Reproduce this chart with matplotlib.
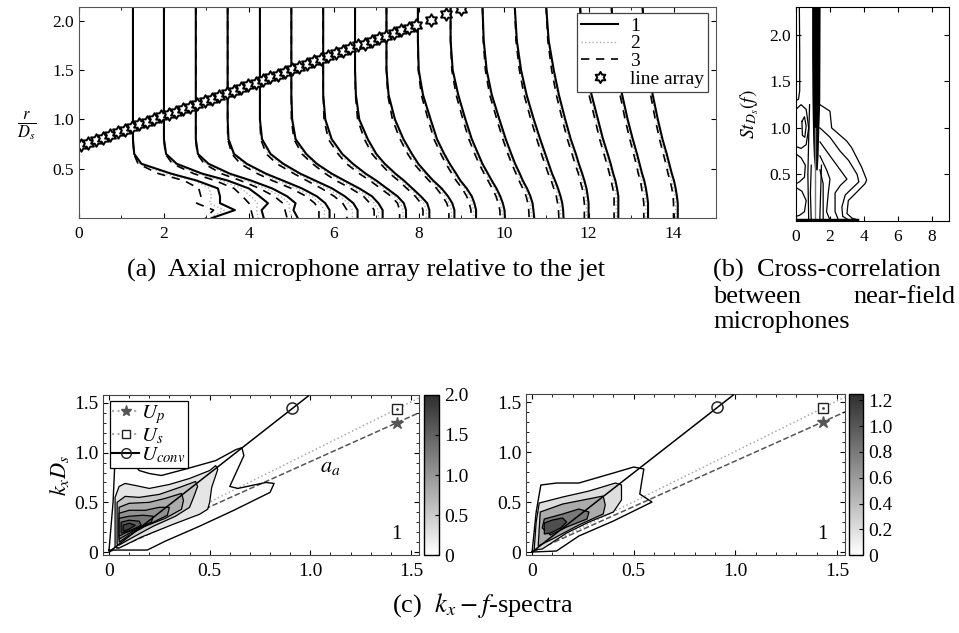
import numpy as np
import matplotlib
matplotlib.use('Agg')
import matplotlib.pyplot as plt
from matplotlib.lines import Line2D
from matplotlib.path import Path
from matplotlib.colors import LinearSegmentedColormap, Normalize
from matplotlib.cm import ScalarMappable

plt.rcParams['font.family'] = 'serif'
plt.rcParams['font.serif'] = ['Liberation Serif', 'DejaVu Serif']
plt.rcParams['mathtext.fontset'] = 'stix'

# ---------------- (a) velocity profiles and line array ----------------
r_pts = [2.15, 1.8, 1.5, 1.25, 1.0, 0.8, 0.65, 0.55, 0.45, 0.38, 0.3, 0.22, 0.15, 0.08, 0.0]
x_stations = [1.27, 2.0, 2.75, 3.5, 4.26, 5.0, 5.75, 6.5, 7.24, 7.98, 8.75, 9.5,
              10.26, 11.0, 11.8, 12.54, 13.27]

u_case1 = [
    [0, 0, 0, 0, 0, 0, 0.03, 0.2, 0.9, 1.5, 2.0, 2.05, 2.05, 2.4, 1.86],
    [0, 0, 0, 0, 0, 0, 0.05, 0.3, 0.9, 1.5, 2.0, 2.25, 2.45, 2.3, 2.35],
    [0, 0, 0, 0, 0, 0, 0.05, 0.3, 0.8, 1.3, 1.8, 2.15, 2.35, 2.3, 2.4],
    [0, 0, 0, 0, 0, 0.02, 0.15, 0.45, 0.9, 1.3, 1.75, 2.1, 2.3, 2.4, 2.4],
    [0, 0, 0, 0, 0, 0.05, 0.25, 0.55, 0.95, 1.3, 1.7, 2.0, 2.2, 2.3, 2.3],
    [0, 0, 0, 0, 0.02, 0.1, 0.35, 0.6, 0.95, 1.25, 1.6, 1.9, 2.05, 2.15, 2.15],
    [0, 0, 0, 0, 0.05, 0.2, 0.45, 0.7, 1.0, 1.25, 1.5, 1.75, 1.9, 1.95, 1.95],
    [0, 0, 0, 0.02, 0.1, 0.3, 0.5, 0.7, 0.95, 1.15, 1.35, 1.55, 1.7, 1.75, 1.75],
    [0, 0, 0, 0.05, 0.2, 0.4, 0.6, 0.75, 0.95, 1.1, 1.3, 1.45, 1.55, 1.6, 1.6],
    [0, 0, 0.02, 0.12, 0.3, 0.45, 0.62, 0.75, 0.9, 1.0, 1.15, 1.27, 1.33, 1.37, 1.37],
    [0, 0, 0.05, 0.18, 0.35, 0.5, 0.65, 0.75, 0.88, 0.97, 1.08, 1.17, 1.23, 1.27, 1.28],
    [0, 0.03, 0.1, 0.22, 0.4, 0.55, 0.68, 0.77, 0.88, 0.95, 1.05, 1.13, 1.18, 1.2, 1.22],
    [0, 0.05, 0.15, 0.28, 0.45, 0.6, 0.72, 0.8, 0.88, 0.95, 1.02, 1.08, 1.12, 1.14, 1.15],
    [0, 0.06, 0.18, 0.3, 0.45, 0.58, 0.7, 0.77, 0.85, 0.9, 0.95, 0.98, 1.0, 1.0, 1.0],
    [0, 0.05, 0.15, 0.27, 0.42, 0.54, 0.65, 0.72, 0.78, 0.83, 0.87, 0.9, 0.9, 0.9, 0.9],
    [0, 0.05, 0.15, 0.25, 0.38, 0.5, 0.6, 0.66, 0.72, 0.77, 0.81, 0.84, 0.86, 0.86, 0.86],
    [0, 0.05, 0.14, 0.24, 0.36, 0.47, 0.57, 0.63, 0.69, 0.74, 0.78, 0.81, 0.83, 0.83, 0.83],
]
u_case2 = [
    [0, 0, 0, 0, 0, 0, 0.02, 0.16, 0.75, 1.45, 1.8, 1.85, 1.8, 2.15, 1.8],
    [0, 0, 0, 0, 0, 0, 0.04, 0.25, 0.8, 1.35, 1.82, 2.05, 2.2, 2.18, 2.22],
    [0, 0, 0, 0, 0, 0, 0.04, 0.25, 0.7, 1.18, 1.65, 2.0, 2.2, 2.2, 2.28],
    [0, 0, 0, 0, 0, 0.01, 0.12, 0.38, 0.8, 1.18, 1.62, 1.98, 2.18, 2.28, 2.28],
    [0, 0, 0, 0, 0, 0.03, 0.2, 0.48, 0.88, 1.2, 1.58, 1.88, 2.08, 2.18, 2.18],
    [0, 0, 0, 0, 0.01, 0.08, 0.3, 0.55, 0.88, 1.15, 1.5, 1.8, 1.95, 2.05, 2.05],
    [0, 0, 0, 0, 0.03, 0.16, 0.4, 0.62, 0.92, 1.18, 1.42, 1.68, 1.82, 1.88, 1.88],
    [0, 0, 0, 0.01, 0.08, 0.26, 0.45, 0.65, 0.88, 1.08, 1.28, 1.48, 1.62, 1.68, 1.68],
    [0, 0, 0, 0.04, 0.17, 0.36, 0.55, 0.7, 0.9, 1.05, 1.24, 1.38, 1.48, 1.53, 1.53],
    [0, 0, 0.015, 0.1, 0.27, 0.41, 0.58, 0.7, 0.85, 0.95, 1.1, 1.21, 1.27, 1.31, 1.31],
    [0, 0, 0.04, 0.15, 0.32, 0.46, 0.61, 0.71, 0.83, 0.92, 1.03, 1.12, 1.17, 1.21, 1.22],
    [0, 0.025, 0.08, 0.2, 0.37, 0.51, 0.64, 0.73, 0.83, 0.9, 1.0, 1.08, 1.12, 1.14, 1.16],
    [0, 0.04, 0.13, 0.25, 0.41, 0.56, 0.67, 0.75, 0.83, 0.9, 0.97, 1.03, 1.06, 1.08, 1.09],
    [0, 0.05, 0.15, 0.27, 0.41, 0.54, 0.65, 0.72, 0.8, 0.85, 0.9, 0.93, 0.95, 0.95, 0.95],
    [0, 0.04, 0.13, 0.24, 0.38, 0.5, 0.6, 0.67, 0.73, 0.78, 0.82, 0.85, 0.85, 0.85, 0.85],
    [0, 0.04, 0.13, 0.22, 0.35, 0.46, 0.56, 0.62, 0.67, 0.72, 0.76, 0.79, 0.81, 0.81, 0.81],
    [0, 0.04, 0.12, 0.21, 0.33, 0.43, 0.53, 0.59, 0.64, 0.69, 0.73, 0.76, 0.78, 0.78, 0.78],
]
u_case3 = [
    [0, 0, 0, 0, 0, 0, 0.02, 0.12, 0.6, 1.2, 1.55, 1.6, 1.5, 1.9, 1.7],
    [0, 0, 0, 0, 0, 0, 0.03, 0.2, 0.7, 1.2, 1.65, 1.85, 2.0, 2.05, 2.1],
    [0, 0, 0, 0, 0, 0, 0.03, 0.2, 0.6, 1.05, 1.5, 1.85, 2.05, 2.1, 2.15],
    [0, 0, 0, 0, 0, 0, 0.1, 0.3, 0.7, 1.05, 1.5, 1.85, 2.05, 2.15, 2.15],
    [0, 0, 0, 0, 0, 0.02, 0.15, 0.4, 0.8, 1.1, 1.45, 1.75, 1.95, 2.05, 2.05],
    [0, 0, 0, 0, 0, 0.06, 0.25, 0.5, 0.8, 1.05, 1.4, 1.7, 1.85, 1.95, 1.95],
    [0, 0, 0, 0, 0.02, 0.12, 0.35, 0.55, 0.85, 1.1, 1.35, 1.6, 1.75, 1.8, 1.8],
    [0, 0, 0, 0.01, 0.06, 0.22, 0.4, 0.6, 0.82, 1.02, 1.22, 1.42, 1.55, 1.6, 1.6],
    [0, 0, 0, 0.03, 0.14, 0.32, 0.5, 0.65, 0.85, 1.0, 1.18, 1.32, 1.42, 1.47, 1.47],
    [0, 0, 0.01, 0.08, 0.24, 0.38, 0.54, 0.66, 0.8, 0.9, 1.04, 1.15, 1.21, 1.25, 1.25],
    [0, 0, 0.03, 0.13, 0.29, 0.43, 0.57, 0.67, 0.79, 0.88, 0.98, 1.07, 1.12, 1.16, 1.17],
    [0, 0.02, 0.07, 0.17, 0.34, 0.48, 0.6, 0.69, 0.79, 0.86, 0.95, 1.03, 1.07, 1.09, 1.1],
    [0, 0.03, 0.11, 0.22, 0.38, 0.52, 0.63, 0.71, 0.79, 0.86, 0.92, 0.98, 1.01, 1.03, 1.04],
    [0, 0.04, 0.13, 0.24, 0.38, 0.5, 0.61, 0.68, 0.76, 0.8, 0.85, 0.88, 0.9, 0.9, 0.9],
    [0, 0.03, 0.11, 0.21, 0.35, 0.46, 0.56, 0.63, 0.69, 0.73, 0.77, 0.8, 0.8, 0.8, 0.8],
    [0, 0.03, 0.11, 0.2, 0.32, 0.43, 0.52, 0.58, 0.63, 0.68, 0.71, 0.74, 0.76, 0.76, 0.76],
    [0, 0.03, 0.1, 0.19, 0.3, 0.4, 0.49, 0.55, 0.6, 0.65, 0.69, 0.72, 0.73, 0.73, 0.73],
]

mic_x = [0.05, 0.22, 0.39, 0.56, 0.74, 0.91, 1.08, 1.25, 1.42, 1.59, 1.76, 1.93, 2.11,
         2.28, 2.45, 2.62, 2.79, 2.96, 3.13, 3.30, 3.48, 3.65, 3.82, 3.99, 4.16, 4.33,
         4.50, 4.68, 4.85, 5.02, 5.19, 5.36, 5.53, 5.70, 5.87, 6.05, 6.22, 6.39, 6.56,
         6.73, 6.90, 7.07, 7.24, 7.42, 7.59, 7.76, 7.93, 8.28, 8.64, 9.00]
mic_r = [0.74, 0.76, 0.79, 0.81, 0.84, 0.87, 0.89, 0.92, 0.95, 0.97, 1.00, 1.03, 1.05,
         1.08, 1.11, 1.13, 1.16, 1.19, 1.21, 1.24, 1.27, 1.29, 1.32, 1.35, 1.37, 1.40,
         1.43, 1.45, 1.48, 1.51, 1.53, 1.56, 1.59, 1.61, 1.64, 1.67, 1.69, 1.72, 1.75,
         1.77, 1.80, 1.83, 1.85, 1.88, 1.91, 1.93, 1.96, 2.01, 2.07, 2.12]

# ---------------- (b) cross-correlation contours ----------------
band_y = [0.55, 0.7, 0.9, 1.3, 1.8, 2.3]
band_xl = [1.1, 1.02, 0.98, 0.94, 0.92, 0.92]
band_xr = [1.25, 1.3, 1.33, 1.4, 1.41, 1.42]
corr_lines = [
    [(0.2, 2.3), (0.22, 1.8), (0.22, 1.4), (0.15, 1.31), (0.0, 1.29)],
    [(1.41, 1.25), (2.0, 1.18), (2.1, 1.0), (2.98, 0.86), (3.27, 0.79), (3.86, 0.58),
     (4.16, 0.44), (4.06, 0.40), (3.47, 0.29), (3.08, 0.22), (3.0, 0.08), (3.3, 0.03), (3.67, 0.01)],
    [(1.41, 1.0), (2.0, 0.9), (2.6, 0.75), (3.1, 0.65), (3.6, 0.5), (3.7, 0.42), (3.3, 0.35),
     (2.9, 0.28), (2.7, 0.15), (2.75, 0.05), (3.1, 0.01)],
    [(1.41, 0.85), (2.0, 0.7), (2.6, 0.55), (3.0, 0.45), (2.6, 0.38), (2.3, 0.3), (2.3, 0.1), (2.5, 0.01)],
    [(1.41, 0.7), (1.8, 0.55), (2.0, 0.45), (1.9, 0.3), (1.8, 0.1), (2.0, 0.01)],
    [(1.41, 0.55), (1.6, 0.4), (1.6, 0.01)],
    [(0.0, 1.2), (0.3, 1.25), (0.6, 1.2), (0.75, 1.0), (0.6, 0.82), (0.3, 0.78), (0.0, 0.8)],
    [(0.35, 1.07), (0.5, 1.12), (0.6, 1.02), (0.52, 0.9), (0.38, 0.92), (0.35, 1.07)],
    [(0.0, 0.72), (0.3, 0.68), (0.55, 0.6), (0.5, 0.47), (0.2, 0.42), (0.0, 0.4)],
    [(0.0, 0.36), (0.35, 0.32), (0.6, 0.22), (0.5, 0.1), (0.2, 0.06), (0.0, 0.05)],
    [(0.8, 1.25), (0.75, 0.9), (0.7, 0.5), (0.75, 0.0)],
    [(0.9, 0.6), (0.85, 0.3), (0.9, 0.0)],
    [(1.5, 0.6), (1.45, 0.3), (1.4, 0.0)],
]
corr_mid_x = [1.12, 1.12]
corr_mid_y = [0.0, 1.0]
corr_base_x = [0.0, 3.6]
corr_base_y = [0.015, 0.015]

# ---------------- (c) k-f spectra ----------------
fill_levels_1 = [0.25, 0.55, 0.8, 1.05, 1.3, 1.55, 1.8]
outer_1 = [(0.0, 0.02), (0.02, 0.5), (0.03, 0.95), (0.10, 0.95), (0.15, 0.82), (0.2, 0.79),
           (0.26, 0.77), (0.39, 0.84), (0.53, 0.92), (0.63, 1.03), (0.66, 1.05), (0.67, 0.97),
           (0.60, 0.66), (0.64, 0.64), (0.78, 0.70), (0.82, 0.69), (0.80, 0.60), (0.62, 0.42),
           (0.45, 0.26), (0.28, 0.11), (0.19, 0.02), (0.0, 0.02)]
polys_1 = [
    [(0.03, 0.05), (0.03, 0.55), (0.05, 0.66), (0.08, 0.69), (0.13, 0.67), (0.2, 0.64), (0.3, 0.68),
     (0.4, 0.74), (0.5, 0.82), (0.53, 0.87), (0.54, 0.83), (0.51, 0.65), (0.50, 0.50), (0.49, 0.43),
     (0.45, 0.38), (0.32, 0.28), (0.16, 0.15), (0.05, 0.04)],
    [(0.04, 0.08), (0.04, 0.5), (0.08, 0.56), (0.15, 0.55), (0.25, 0.58), (0.35, 0.65), (0.43, 0.71),
     (0.44, 0.66), (0.42, 0.55), (0.40, 0.45), (0.33, 0.36), (0.22, 0.26), (0.12, 0.15), (0.05, 0.07)],
    [(0.05, 0.1), (0.05, 0.45), (0.10, 0.49), (0.2, 0.5), (0.28, 0.54), (0.36, 0.59), (0.37, 0.52),
     (0.36, 0.43), (0.28, 0.34), (0.18, 0.26), (0.1, 0.17)],
    [(0.05, 0.13), (0.05, 0.39), (0.10, 0.42), (0.18, 0.42), (0.25, 0.45), (0.30, 0.45), (0.29, 0.37),
     (0.21, 0.29), (0.12, 0.21)],
    [(0.05, 0.16), (0.05, 0.34), (0.10, 0.36), (0.17, 0.37), (0.22, 0.36), (0.21, 0.30), (0.13, 0.23),
     (0.08, 0.19)],
    [(0.06, 0.19), (0.06, 0.30), (0.1, 0.32), (0.15, 0.31), (0.16, 0.27), (0.11, 0.22)],
    [(0.07, 0.21), (0.07, 0.27), (0.1, 0.29), (0.13, 0.27), (0.1, 0.23)],
]
fill_levels_2 = [0.2, 0.5, 0.8, 1.05]
outer_2 = [(0.0, 0.0), (0.02, 0.4), (0.043, 0.67), (0.12, 0.69), (0.23, 0.69), (0.40, 0.79),
           (0.50, 0.85), (0.55, 0.83), (0.54, 0.71), (0.53, 0.58), (0.59, 0.50), (0.53, 0.44),
           (0.40, 0.31), (0.23, 0.16), (0.12, 0.01), (0.0, 0.0)]
polys_2 = [
    [(0.01, 0.02), (0.02, 0.3), (0.035, 0.49), (0.15, 0.55), (0.28, 0.61), (0.41, 0.69), (0.44, 0.67),
     (0.44, 0.52), (0.40, 0.40), (0.28, 0.30), (0.17, 0.19), (0.05, 0.03)],
    [(0.03, 0.06), (0.04, 0.40), (0.15, 0.48), (0.35, 0.56), (0.36, 0.47), (0.35, 0.38), (0.23, 0.27),
     (0.1, 0.13)],
    [(0.05, 0.24), (0.06, 0.33), (0.15, 0.38), (0.23, 0.43), (0.28, 0.40), (0.27, 0.33), (0.17, 0.25),
     (0.09, 0.17)],
    [(0.06, 0.18), (0.06, 0.29), (0.10, 0.32), (0.15, 0.34), (0.17, 0.30), (0.14, 0.24), (0.09, 0.19)],
]
conv_f = [0.0, 0.99]
conv_k = [0.0, 1.57]
us_f = [0.0, 1.55]
us_k = [0.0, 1.56]
up_f = [0.0, 1.55]
up_k = [0.0, 1.41]
mark_conv = (0.91, 1.45)
mark_us = (1.43, 1.44)
mark_up = (1.43, 1.30)
cmax = [2.0, 1.25]
cticks = [[0, 0.5, 1.0, 1.5, 2.0], [0, 0.2, 0.4, 0.6, 0.8, 1.0, 1.2]]
cticklabels = [['0', '0.5', '1.0', '1.5', '2.0'], ['0', '0.2', '0.4', '0.6', '0.8', '1.0', '1.2']]

# hexagram marker for the microphones
ang = np.deg2rad(np.arange(12) * 30 + 90)
rad = np.array([1.0, 0.58] * 6)
hexagram = Path(np.column_stack([rad * np.cos(ang), rad * np.sin(ang)]).tolist() + [[0, 1.0]],
                [Path.MOVETO] + [Path.LINETO] * 11 + [Path.CLOSEPOLY])

fig = plt.figure(figsize=(9.59, 6.33), dpi=100)
tick_kw = dict(direction='in', top=True, right=True, labelsize=12.5)

# ---- panel a
ax = fig.add_axes([0.0824, 0.6556, 0.6642, 0.3333])
for i, x0 in enumerate(x_stations):
    ax.plot(np.array(u_case2[i]) + x0, r_pts, ':', color='#b0b0b0', lw=1.0)
    ax.plot(np.array(u_case3[i]) + x0, r_pts, '--', color='black', lw=1.2, dashes=(5, 4))
    ax.plot(np.array(u_case1[i]) + x0, r_pts, '-', color='black', lw=1.5)
ax.plot(mic_x, mic_r, ls='none', marker=hexagram, ms=9, mfc='white', mec='black', mew=1.4)
ax.set_xlim(0, 15)
ax.set_ylim(0, 2.14)
ax.set_xticks([0, 2, 4, 6, 8, 10, 12, 14])
ax.set_xticks(range(1, 15, 2), minor=True)
ax.set_yticks([0.5, 1.0, 1.5, 2.0])
ax.set_yticklabels(['0.5', '1.0', '1.5', '2.0'])
ax.tick_params(which='both', **tick_kw)
ax.tick_params(axis='x', pad=6)
for s in ax.spines.values():
    s.set_color('#555555')
h = [Line2D([], [], color='black', lw=1.5),
     Line2D([], [], color='#b0b0b0', ls=':', lw=1.0),
     Line2D([], [], color='black', ls='--', lw=1.2, dashes=(5, 4)),
     Line2D([], [], ls='none', marker=hexagram, ms=8, mfc='white', mec='black', mew=1.4)]
leg = ax.legend(h, ['1', '2', '3', 'line array'], loc='upper right', bbox_to_anchor=(0.987, 0.97),
                fontsize=14, frameon=True, fancybox=False, edgecolor='#444444', framealpha=1,
                handlelength=1.9, borderpad=0.2, labelspacing=0.0, handletextpad=0.6,
                borderaxespad=0.0)
leg.get_frame().set_linewidth(0.9)
fig.text(0.018, 0.80, r'$\frac{r}{D_s}$', fontsize=17, ha='left', va='center')

# ---- panel b
bx = fig.add_axes([0.830, 0.6509, 0.1595, 0.3381])
bx.fill_betweenx(band_y, band_xl, band_xr, color='black', lw=0)
for line in corr_lines:
    xs, ys = zip(*line)
    bx.plot(xs, ys, color='black', lw=0.9)
bx.plot(corr_mid_x, corr_mid_y, color='#777777', lw=1.0)
bx.plot(corr_base_x, corr_base_y, color='black', lw=2.5)
bx.set_xlim(0, 9)
bx.set_ylim(0, 2.3)
bx.set_xticks([0, 2, 4, 6, 8])
bx.set_yticks([0.5, 1.0, 1.5, 2.0])
bx.set_yticklabels(['0.5', '1.0', '1.5', '2.0'])
bx.tick_params(**tick_kw)
bx.tick_params(axis='x', pad=6)
bx.set_ylabel(r'$St_{D_s}(f)$', fontsize=14, labelpad=6)

# ---- panel c
cmap = LinearSegmentedColormap.from_list('gr', ['white', '#2e2e2e'])
cpos = [([0.1074, 0.1232, 0.3295, 0.2528], [0.4421, 0.1232, 0.0156, 0.2528]),
        ([0.5485, 0.1232, 0.3326, 0.2543], [0.8853, 0.1232, 0.0146, 0.2543])]
panels = [(outer_1, polys_1, fill_levels_1), (outer_2, polys_2, fill_levels_2)]
for j, (apos, cbpos) in enumerate(cpos):
    cx = fig.add_axes(apos)
    outer, polys, levels = panels[j]
    norm = Normalize(0, cmax[j])
    cx.plot(us_f, us_k, ':', color='#aaaaaa', lw=1.1, zorder=1)
    cx.plot(up_f, up_k, '--', color='#555555', lw=1.1, zorder=1)
    xs, ys = zip(*outer)
    cx.plot(xs, ys, color='black', lw=1.0, zorder=2)
    for lev, poly in zip(levels, polys):
        xs, ys = zip(*poly)
        cx.fill(xs, ys, facecolor=cmap(norm(lev)), edgecolor='black', lw=0.9, zorder=2)
    cx.plot(conv_f, conv_k, '-', color='black', lw=1.1, zorder=3)
    cx.plot(*mark_conv, 'o', ms=8, mfc='none', mec='#222222', mew=1.1, zorder=4)
    cx.plot(*mark_us, 's', ms=6.5, mfc='white', mec='#222222', mew=1.0, zorder=4)
    cx.plot(*mark_us, '.', ms=2, color='#444444', zorder=5)
    cx.plot(*mark_up, '*', ms=9, color='#555555', zorder=4)
    cx.text(1.43, 0.18, '1', fontsize=15, ha='center', va='center')
    cx.set_xlim(-0.03, 1.54)
    cx.set_ylim(-0.03, 1.58)
    cx.set_xticks([0, 0.5, 1.0, 1.5])
    cx.set_xticklabels(['0', '0.5', '1.0', '1.5'])
    cx.set_yticks([0, 0.5, 1.0, 1.5])
    cx.set_yticklabels(['0', '0.5', '1.0', '1.5'])
    cx.set_xticks(np.arange(0, 1.55, 0.1), minor=True)
    cx.set_yticks(np.arange(0, 1.55, 0.1), minor=True)
    cx.tick_params(which='both', direction='in', top=True, right=True, labelsize=14)
    cx.tick_params(which='minor', length=2.5)
    cx.tick_params(axis='x', pad=6)
    for s in cx.spines.values():
        s.set_color('#444444')
    if j == 0:
        cx.text(1.10, 0.85, r'$a_a$', fontsize=16, ha='center', va='center')
        cx.set_ylabel(r'$k_x D_s$', fontsize=16, labelpad=2)
        hl = [Line2D([], [], color='#aaaaaa', ls=':', marker='*', ms=8, mfc='#555555', mec='#555555'),
              Line2D([], [], color='#aaaaaa', ls=':', marker='s', ms=6, mfc='white', mec='#222222'),
              Line2D([], [], color='black', ls='-', marker='o', ms=7, mfc='none', mec='#222222')]
        lg = cx.legend(hl, [r'$U_p$', r'$U_s$', r'$U_{conv}$'], loc='upper left',
                       bbox_to_anchor=(0.022, 0.96), fontsize=15, frameon=True, fancybox=False,
                       edgecolor='black', framealpha=1, handlelength=1.3, borderpad=0.1,
                       labelspacing=0.0, handletextpad=0.1, borderaxespad=0.0)
        lg.get_frame().set_linewidth(0.9)
    cb_ax = fig.add_axes(cbpos)
    cb = fig.colorbar(ScalarMappable(norm=norm, cmap=cmap), cax=cb_ax)
    cb.set_ticks(cticks[j])
    cb.set_ticklabels(cticklabels[j])
    cb.ax.tick_params(direction='in', labelsize=14, length=3)
    cb.outline.set_linewidth(1.0)

# ---- captions
cap = 19
fig.text(0.382, 0.573, '(a)  Axial microphone array relative to the jet', fontsize=cap,
         ha='center', va='center')
fig.text(0.744, 0.573, '(b)  Cross-correlation', fontsize=cap, ha='left', va='center')
fig.text(0.744, 0.531, 'between', fontsize=cap, ha='left', va='center')
fig.text(0.996, 0.531, 'near-field', fontsize=cap, ha='right', va='center')
fig.text(0.744, 0.491, 'microphones', fontsize=cap, ha='left', va='center')
fig.text(0.503, 0.044, r'(c)  $k_x - f$-spectra', fontsize=cap, ha='center', va='center')

plt.savefig('out.png', dpi=100)
